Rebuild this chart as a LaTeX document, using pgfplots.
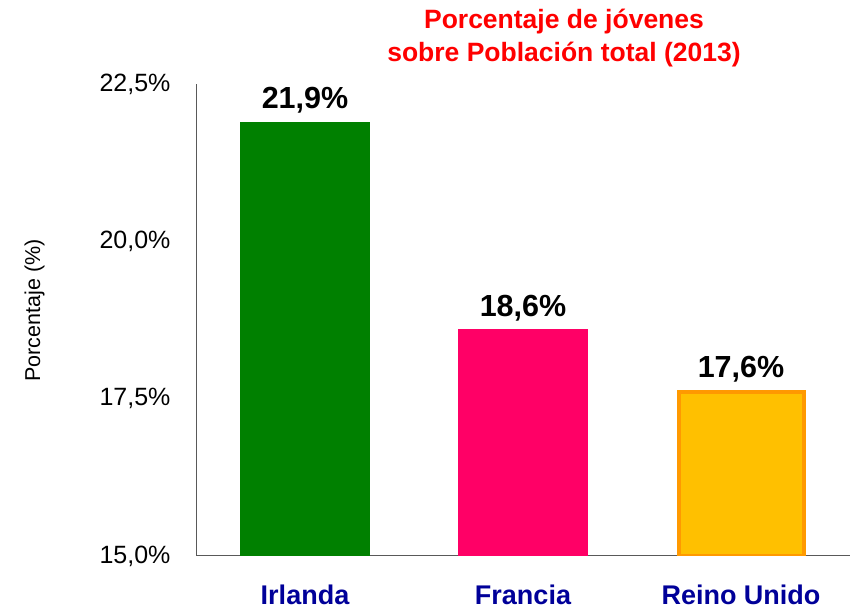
\documentclass[border=0pt]{standalone}
\usepackage{pgfplots}
\pgfplotsset{compat=1.18}
\usepackage{fontspec}
\setmainfont{Liberation Sans}
\definecolor{cgreen}{HTML}{008000}
\definecolor{cpink}{HTML}{FF0066}
\definecolor{cyellow}{HTML}{FFC000}
\definecolor{corange}{HTML}{FF9900}
\definecolor{cnavy}{HTML}{000099}
\definecolor{ctitle}{HTML}{FF0000}
\begin{document}
\begin{tikzpicture}[x=1pt,y=1pt]
\useasboundingbox (0,0) rectangle (852,610);
\begin{axis}[
  at={(196pt,54pt)}, anchor=south west,
  scale only axis, width=654pt, height=472pt,
  xmin=-0.5, xmax=2.5, ymin=15, ymax=22.5,
  axis x line=bottom, axis y line=left,
  axis line style={draw=black!65, line width=1pt, -},
  xtick={0,1,2}, xticklabels={Irlanda,Francia,Reino Unido},
  ytick={15,17.5,20,22.5},
  major tick length=0pt,
  /pgf/number format/assume math mode=true,
  yticklabel={\pgfmathprintnumber[fixed,fixed zerofill,precision=1,use comma]{\tick}\%},
  yticklabel style={font=\fontsize{25}{30}\selectfont, xshift=-22pt},
  xticklabel style={font=\fontsize{27}{32}\selectfont\bfseries, text=cnavy, yshift=-25pt},
  ylabel={Porcentaje (\%)},
  ylabel style={at={(axis description cs:-0.247,0.52)}, anchor=center, rotate=0, font=\fontsize{21.5}{26}\selectfont},
  ybar, bar width=129pt, bar shift=0pt,
  nodes near coords={\pgfmathprintnumber[fixed,fixed zerofill,precision=1,use comma]{\pgfplotspointmeta}\%},
  nodes near coords style={font=\fontsize{30.5}{36}\selectfont\bfseries, text=black, yshift=5pt},
]
\addplot[fill=cgreen, draw=cgreen] coordinates {(0,21.9)};
\addplot[fill=cpink, draw=cpink] coordinates {(1,18.6)};
\addplot[fill=cyellow, draw=corange, line width=4pt, bar width=125pt] coordinates {(2,17.6)};
\end{axis}
\node[align=center, text=ctitle, font=\fontsize{26.5}{33}\selectfont\bfseries] at (564,572) {Porcentaje de jóvenes\\sobre Población total (2013)};
\end{tikzpicture}
\end{document}
